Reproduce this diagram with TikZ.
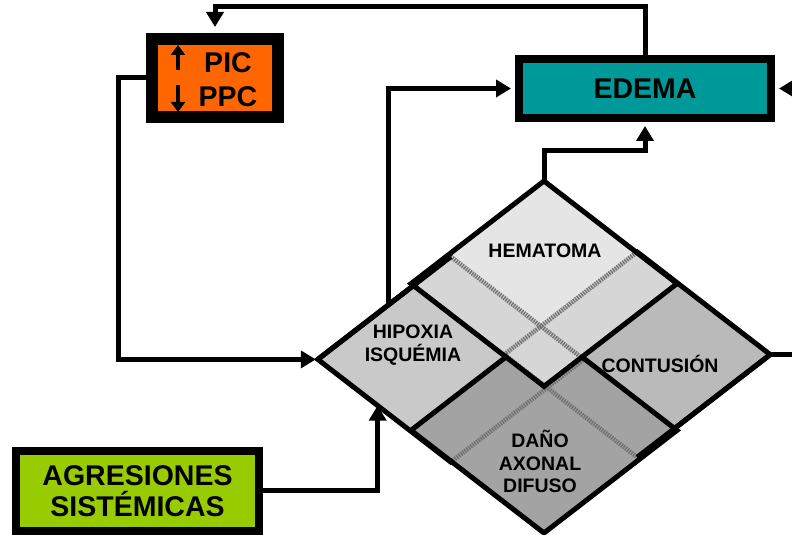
\documentclass[tikz,border=0pt]{standalone}
\usepackage{fontspec}
\setmainfont{Liberation Sans}
\usetikzlibrary{arrows.meta, calc}

\definecolor{picorange}{RGB}{255,102,0}
\definecolor{edemateal}{RGB}{0,153,153}
\definecolor{agrgreen}{RGB}{153,204,0}
\definecolor{hemgray}{gray}{0.90}
\definecolor{hemdark}{gray}{0.84}
\definecolor{hipgray}{gray}{0.79}
\definecolor{congray}{gray}{0.73}
\definecolor{dangray}{gray}{0.64}

\begin{document}
\begin{tikzpicture}[x=1pt, y=1pt,
  bigtxt/.style={font=\bfseries\fontsize{28.5}{33}\selectfont, align=center},
  box/.style={bigtxt, draw=black, line width=8pt, inner sep=0pt},
  lbl/.style={font=\bfseries\fontsize{19.5}{22.5}\selectfont, align=center},
  edge/.style={line width=5pt, black},
  hatch/.style={line width=4.5pt, black!55, dash pattern=on 1.5pt off 1pt},
  conn/.style={line width=5pt, -{Triangle[length=15pt, width=17pt]}},
  tick/.style={line width=4.5pt, -{Triangle[length=10pt, width=14pt]}}]
  \useasboundingbox (0,0) rectangle (792,535);
  \clip (0,0) rectangle (792,535);

  % --- Diamond: corners of the four regions ---
  \foreach \nm/\cx/\cy in {hip/450.8/175.6, con/637.2/180.4, dan/544/104.67, hem/544/251.33} {
    \coordinate (\nm-w) at (\cx-133, \cy);
    \coordinate (\nm-n) at (\cx, \cy+102.67);
    \coordinate (\nm-e) at (\cx+133, \cy);
    \coordinate (\nm-s) at (\cx, \cy-102.67);
  }
  % --- Left and right: hypoxia, contusion ---
  \filldraw[edge, fill=hipgray] (hip-w) -- (hip-n) -- (hip-e) -- (hip-s) -- cycle;
  \filldraw[edge, fill=congray] (con-w) -- (con-n) -- (con-e) -- (con-s) -- cycle;
  % --- Bottom: diffuse axonal damage ---
  \fill[dangray] (dan-w) -- (dan-n) -- (dan-e) -- (dan-s) -- cycle;
  \begin{scope}
    \clip (dan-w) -- (dan-n) -- (dan-e) -- (dan-s) -- cycle;
    \draw[hatch] (hip-w) -- (hip-n) -- (hip-e) -- (hip-s) -- cycle;
    \draw[hatch] (con-w) -- (con-n) -- (con-e) -- (con-s) -- cycle;
  \end{scope}
  \draw[edge] (dan-w) -- (dan-n) -- (dan-e) -- (dan-s) -- cycle;
  \draw[edge] (con-s) -- (con-e);
  % --- Top: hematoma ---
  \fill[hemgray] (hem-w) -- (hem-n) -- (hem-e) -- (hem-s) -- cycle;
  \begin{scope}
    \clip (hem-w) -- (hem-n) -- (hem-e) -- (hem-s) -- cycle;
    \fill[hemdark] (hip-w) -- (hip-n) -- (hip-e) -- (hip-s) -- cycle;
    \fill[hemdark] (con-w) -- (con-n) -- (con-e) -- (con-s) -- cycle;
    \draw[hatch] (hip-w) -- (hip-n) -- (hip-e) -- (hip-s) -- cycle;
    \draw[hatch] (con-w) -- (con-n) -- (con-e) -- (con-s) -- cycle;
  \end{scope}
  \draw[edge] (hem-w) -- (hem-n) -- (hem-e) -- (hem-s) -- cycle;
  \draw[edge] (hip-w) -- (hip-n);

  \node[lbl] (hemtxt) at (545,284.5) {HEMATOMA};
  \node[lbl] (hiptxt) at (413,190) {HIPOXIA\\ISQUÉMIA};
  \node[lbl] (contxt) at (660,171.5) {CONTUSIÓN};
  \node[lbl] (dantxt) at (540,73.5) {DAÑO\\AXONAL\\DIFUSO};

  % --- Boxes ---
  \node[box, line width=12pt, fill=picorange, minimum width=126pt, minimum height=78pt] (pic) at (215,457) {};
  \node[bigtxt, font=\bfseries\fontsize{28.5}{34}\selectfont] (pictxt) at ([xshift=13pt, yshift=-2pt]pic.center) {PIC\\PPC};
  \draw[tick] ([xshift=-37pt, yshift=8pt]pic.center) -- ++(0,25);
  \draw[tick] ([xshift=-37pt, yshift=-7pt]pic.center) -- ++(0,-27);
  \node[box, fill=edemateal, minimum width=252pt, minimum height=59pt] (edema) at (645,446.5) {EDEMA};
  \node[box, fill=agrgreen, minimum width=243pt, minimum height=80pt,
        font=\bfseries\fontsize{28.5}{31}\selectfont] (agr) at (137.5,44) {AGRESIONES\\SISTÉMICAS};

  % --- Connectors ---
  \coordinate (hipUp) at ($(hip-w)!0.535!(hip-n)$);
  \coordinate (hipLow) at ($(hip-w)!0.45!(hip-s)$);
  \coordinate (rimE) at ([xshift=40pt]edema.east);
  \coordinate (rimD) at ([xshift=40pt]con-e);
  \draw[conn, shorten >=6pt] (edema.north) -- ++(0,48) -| (pic.north);
  \draw[conn, shorten >=2pt] (pic.west) -- ++(-28,0) |- (hip-w);
  \draw[conn, shorten >=4pt] (hipUp) |- (edema.west);
  \draw[conn, shorten >=4pt] (hem-n) -- ++(0,30) -| (edema.south);
  \draw[conn, shorten >=4pt] (rimE) -- (edema.east);
  \draw[edge] (con-e) -- (rimD);
  \draw[conn] (agr.east) -| (hipLow);
\end{tikzpicture}
\end{document}
